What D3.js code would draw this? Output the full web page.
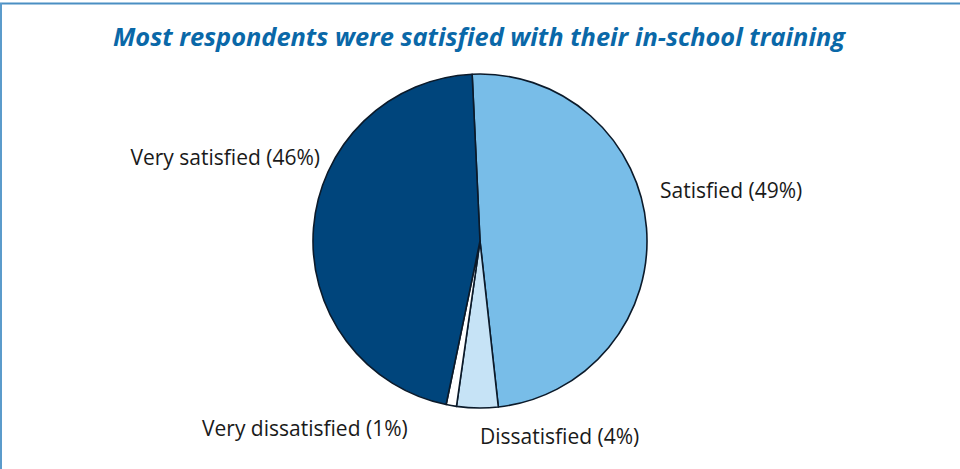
<!DOCTYPE html>
<html>
<head>
<meta charset="utf-8">
<script src="https://cdn.jsdelivr.net/npm/d3@7"></script>
<style>
  html, body { margin: 0; padding: 0; background: #fff; }
  svg { display: block; }
</style>
</head>
<body>
<svg id="chart" width="960" height="469"></svg>
<script>
// Survey answers, in drawing order (clockwise from the top)
const categories = ["Satisfied", "Dissatisfied", "Very dissatisfied", "Very satisfied"];
const values = [49, 4, 1, 46];
const colors = ["#78bde8", "#c6e3f6", "#ffffff", "#00457c"];
const labels = ["Satisfied (49%)", "Dissatisfied (4%)", "Very dissatisfied (1%)", "Very satisfied (46%)"];
const title = "Most respondents were satisfied with their in-school training";

const W = 960, H = 469;
const svg = d3.select("#chart");

// frame: top and left rules
svg.append("line").attr("x1", 0).attr("x2", W).attr("y1", 3.5).attr("y2", 3.5)
  .attr("stroke", "#4b8fc3").attr("stroke-width", 2);
svg.append("line").attr("x1", 1).attr("x2", 1).attr("y1", 3).attr("y2", H)
  .attr("stroke", "#5b9bcb").attr("stroke-width", 2);

svg.append("text")
  .attr("x", 479).attr("y", 46)
  .attr("text-anchor", "middle")
  .attr("font-family", "'Open Sans', sans-serif")
  .attr("font-weight", 700).attr("font-style", "italic")
  .attr("font-size", 25)
  .attr("textLength", 732).attr("lengthAdjust", "spacingAndGlyphs")
  .attr("fill", "#0a68a8")
  .text(title);

const cx = 480, cy = 241, r = 167;
const startAngle = -2.7 * Math.PI / 180;
const pie = d3.pie().sort(null).value(d => d)
  .startAngle(startAngle).endAngle(startAngle + 2 * Math.PI);
const arcs = pie(values);
const arc = d3.arc().innerRadius(0).outerRadius(r);

const g = svg.append("g").attr("transform", `translate(${cx},${cy})`);
g.selectAll("path").data(arcs).join("path")
  .attr("d", arc)
  .attr("fill", (d, i) => colors[i])
  .attr("stroke", "#0b1a2a")
  .attr("stroke-width", 1.6)
  .attr("stroke-linejoin", "round");

// label positions beside each slice
const labelPos = [
  { x: 660, y: 198, anchor: "start" },
  { x: 480, y: 444, anchor: "start" },
  { x: 202, y: 436, anchor: "start" },
  { x: 320, y: 165, anchor: "end" }
];
svg.selectAll("text.lbl").data(labels).join("text")
  .attr("class", "lbl")
  .attr("x", (d, i) => labelPos[i].x)
  .attr("y", (d, i) => labelPos[i].y)
  .attr("text-anchor", (d, i) => labelPos[i].anchor)
  .attr("font-family", "'Open Sans', sans-serif")
  .attr("font-size", 21)
  .attr("fill", "#1a1a1a")
  .text(d => d);
</script>
</body>
</html>
